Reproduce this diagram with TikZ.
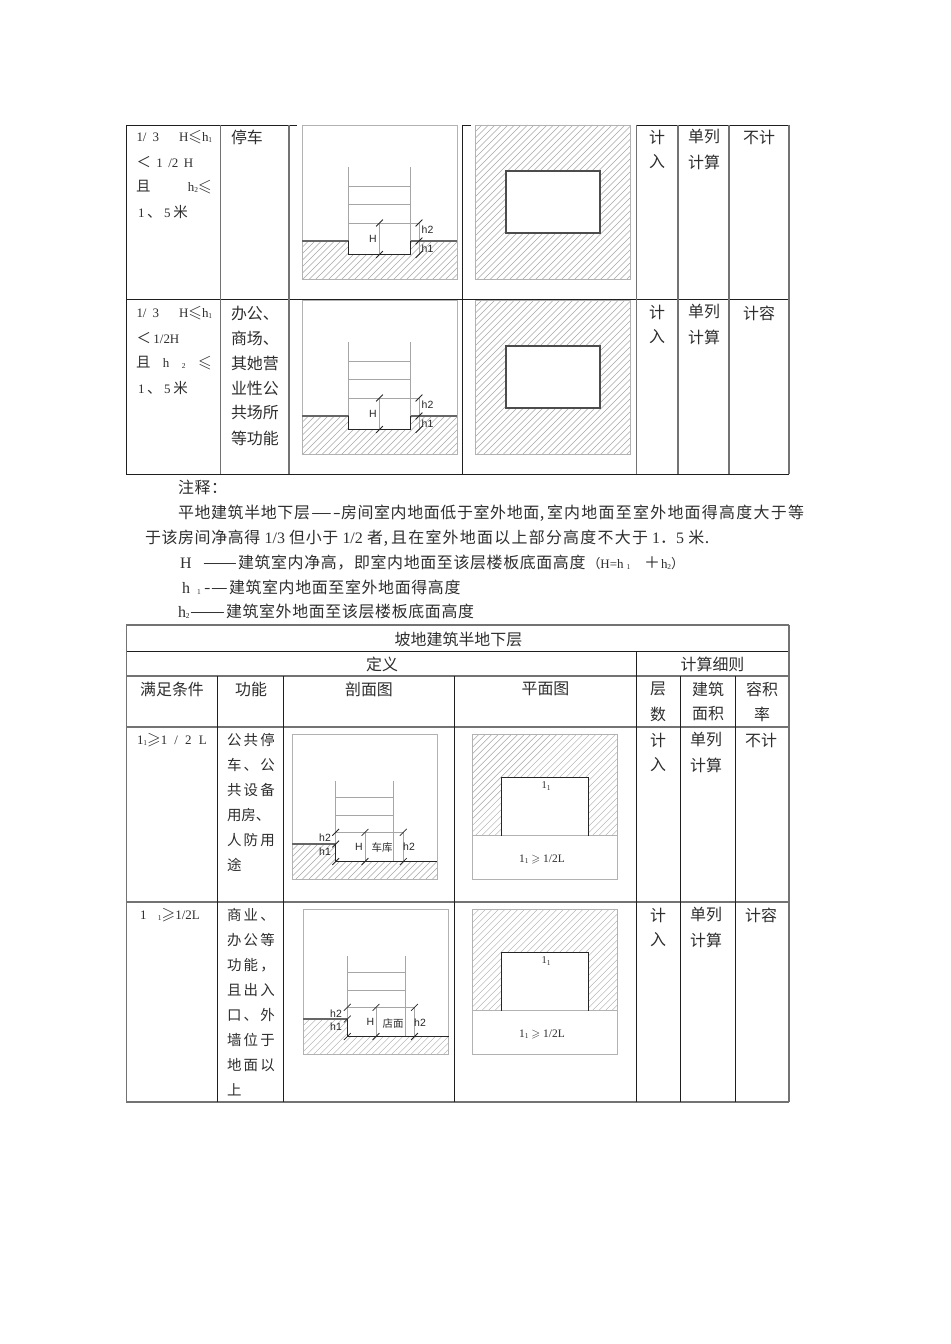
\documentclass[tikz,border=0pt]{standalone}
\usepackage{fontspec}
\usepackage{amssymb}
\usepackage{graphicx}
\setmainfont{Liberation Serif}
\newfontfamily\cjk{Noto Sans CJK SC}
\newfontfamily\cjkn{Noto Sans CJK SC}[LetterSpace=4]
\newfontfamily\cjkw{Noto Sans CJK SC}[LetterSpace=8]
\newfontfamily\lab{Liberation Sans}
\newcounter{tn}
\newcommand{\fa}{\fontsize{16}{18}\selectfont\cjk}
\newcommand{\fb}{\fontsize{14.5}{17}\selectfont\cjk}
\newcommand{\fc}{\fontsize{16}{18}\selectfont\cjkn}
\newcommand{\fw}{\fontsize{16}{18}\selectfont\cjkw}
\newcommand{\fd}{\fontsize{13}{14}\selectfont}
\newcommand{\fe}{\fontsize{16}{17}\selectfont\rmfamily}
\newcommand{\lo}[1]{{\fontsize{7.5}{8}\selectfont\raisebox{-1.5pt}{#1}}}
\newcommand{\lee}{\scalebox{1.35}{$\leqslant$}}
\newcommand{\gee}{\scalebox{1.35}{$\geqslant$}}
\newcommand{\spr}[2]{\makebox[#1pt][s]{#2}}
\newcommand{\dsh}[2]{\resizebox{#1pt}{\height}{\fc #2}}
\newcommand{\tw}[3]{\stepcounter{tn}\node[txt,anchor=west] (t\thetn) at (#1,#2) {#3};}
\newcommand{\tb}[3]{\stepcounter{tn}\node[txt,anchor=base west] (t\thetn) at (#1,#2+6.3) {#3};}
\newcommand{\tc}[3]{\stepcounter{tn}\node[txt] (t\thetn) at (#1,#2) {#3};}
\newcommand{\dm}[3]{\stepcounter{tn}\node[dimlab] (t\thetn) at (#1,#2) {#3};}
\newcommand{\tick}[2]{\draw[tickl] (#1-3.4,#2+3.4) -- (#1+3.4,#2-3.4);}
% hatch: clip path, then bbox x1 y1 x2 y2
\newcommand{\hatchin}[5]{\begin{scope}\clip #1;
  \pgfmathsetmacro{\hh}{(#5)-(#3)}
  \foreach \c in {0,1,...,60}{
    \pgfmathsetmacro{\xs}{(#2)-\hh+6.5*\c}
    \draw[hatchl] (\xs,#5) -- (\xs+\hh,#3);
  }\end{scope}}
\newcommand{\sectA}{
  \hatchin{(302,241) -- (348.5,241) -- (348.5,254.5) -- (410.5,254.5) -- (410.5,241) -- (457,241) -- (457,279.5) -- (302,279.5) -- cycle}{302}{241}{457}{279.5}
  \draw[frame] (302,125) rectangle (457,279.5);
  \draw[thin1] (348.5,167) -- (348.5,241) (410.5,167) -- (410.5,241);
  \draw[thin1] (348.5,186) -- (410.5,186) (348.5,204) -- (410.5,204) (348.5,223) -- (419,223);
  \draw[thin1] (379.5,223) -- (379.5,254.5) (419,223) -- (419,254.5);
  \draw[ground] (302,241) -- (348.5,241);
  \draw[ground] (410.5,241) -- (457,241);
  \draw[heavy] (348.5,241) -- (348.5,254.5) -- (410.5,254.5) -- (410.5,241);
  \tick{379.5}{223}\tick{379.5}{254.5}\tick{419}{223}\tick{419}{241}\tick{419}{254.5}
  \dm{373}{238.5}{H}\dm{427.5}{230}{h2}\dm{427.5}{249}{h1}
}
\newcommand{\planA}{
  \hatchin{(475.5,125) rectangle (630.5,279.5)}{475.5}{125}{630.5}{279.5}
  \draw[frame] (475.5,125) rectangle (630.5,279.5);
  \draw[plan,fill=white] (506,171) rectangle (600,233);
}
\newcommand{\planB}{
  \hatchin{(472.3,734.5) rectangle (617.7,835.5)}{472.3}{734.5}{617.7}{835.5}
  \draw[frame] (472.3,734.5) rectangle (617.7,879);
  \draw[frame] (472.3,835.5) -- (617.7,835.5);
  \fill[white] (501.7,777.5) rectangle (588.3,835);
  \draw[heavy] (501.7,835.5) -- (501.7,777.5) -- (588.3,777.5) -- (588.3,835.5);
  \tc{546}{786}{\fontsize{10.5}{11}\selectfont 1\lo{1}}
  \tc{542}{859}{\fontsize{11.5}{12}\selectfont 1\lo{1} $\geqslant$ 1/2L}
}
\newcommand{\sectB}[6]{
  % #1 frame x, #2 frame y, #3 wall1, #4 wall2, #5 dim H, #6 dim right
  \hatchin{(#1,#2+109.5) -- (#3,#2+109.5) -- (#3,#2+127) -- (#1+145.4,#2+127) -- (#1+145.4,#2+144.5) -- (#1,#2+144.5) -- cycle}{#1}{#2+109.5}{#1+145.4}{#2+144.5}
  \draw[frame] (#1,#2) rectangle (#1+145.4,#2+144.5);
  \draw[thin1] (#3,#2+46) -- (#3,#2+127) (#4,#2+46) -- (#4,#2+127);
  \draw[thin1] (#3,#2+63.2) -- (#4,#2+63.2) (#3,#2+80.5) -- (#4,#2+80.5) (#3,#2+97.8) -- (#6,#2+97.8);
  \draw[thin1] (#5,#2+97.8) -- (#5,#2+127) (#6,#2+97.8) -- (#6,#2+127);
  \draw[ground] (#1,#2+109.5) -- (#3,#2+109.5);
  \draw[heavy] (#3,#2+109.5) -- (#3,#2+127) -- (#1+145.4,#2+127);
  \tick{#3}{#2+97.8}\tick{#3}{#2+109.5}\tick{#3}{#2+127}
  \tick{#5}{#2+97.8}\tick{#5}{#2+127}\tick{#6}{#2+97.8}\tick{#6}{#2+127}
}
\tikzset{
  txt/.style={inner sep=0pt,outer sep=0pt,text=black!82},
  dimlab/.style={inner sep=0pt,font=\fontsize{10.5}{11}\selectfont\lab,text=black!85},
  frame/.style={draw=black!30,line width=.9pt},
  hatchl/.style={draw=black!35,line width=.45pt},
  thin1/.style={draw=black!35,line width=.7pt},
  ground/.style={draw=black!60,line width=1.2pt},
  heavy/.style={draw=black!85,line width=1.1pt},
  plan/.style={draw=black!70,line width=1.1pt},
  tickl/.style={draw=black!85,line width=.8pt},
  dk/.style={draw=black!88,line width=.9pt},
  gr/.style={draw=black!55,line width=1.1pt},
}
\begin{document}
\begin{tikzpicture}[x=1bp,y=-1bp]
\useasboundingbox[fill=white] (0,0) rectangle (950,1344);
% ---------- first table ----------
\sectA
\planA
\begin{scope}[shift={(0,175)}]
\sectA
\planA
\end{scope}
\draw[dk] (126,125) -- (297,125) (462,125) -- (471,125) (636,125) -- (789,125);
\draw[dk] (126,299) -- (789,299) (126,474) -- (789,474);
\draw[dk] (126.5,125) -- (126.5,474) (462.5,125) -- (462.5,474);
\draw[gr] (220.5,125) -- (220.5,474) (289,125) -- (289,474) (636.5,125) -- (636.5,474) (678,125) -- (678,474) (729,125) -- (729,474) (789,125) -- (789,474);
% col 1
\tw{136.5}{137}{\fd\spr{76}{1/\hspace{6pt}3\hfil H\lee h\lo{1}}}
\tw{136.5}{162}{\fd\spr{57}{{\fb ＜}\hfil 1\hfil /2\hfil H}}
\tw{136}{187}{\fd\spr{76}{{\fb 且}\hfil h\lo{2}\lee}}
\tw{138}{212}{\fd\spr{50}{1\hfil {\fb 、}\hfil 5\hfil {\fb 米}}}
\tw{136.5}{313}{\fd\spr{76}{1/\hspace{6pt}3\hfil H\lee h\lo{1}}}
\tw{136.5}{338}{\fd\spr{43}{{\fb ＜}\hfil 1/2H}}
\tw{136}{363}{\fd\spr{76}{{\fb 且}\hfil h\hfil\lo{2}\hfil\lee}}
\tw{138}{388}{\fd\spr{50}{1\hfil {\fb 、}\hfil 5\hfil {\fb 米}}}
% col 2
\tw{231}{137}{\fa 停车}
\tw{231}{313}{\fa 办公、}
\tw{231}{338}{\fa 商场、}
\tw{231}{363}{\fa 其她营}
\tw{231}{388}{\fa 业性公}
\tw{231}{413}{\fa 共场所}
\tw{231}{438}{\fa 等功能}
% right columns
\foreach \d in {0,175}{
  \tc{657}{137+\d}{\fa 计}
  \tc{657}{162+\d}{\fa 入}
  \tc{704}{137+\d}{\fa 单列}
  \tc{704}{162+\d}{\fa 计算}
}
\tc{759}{137}{\fa 不计}
\tc{759}{313}{\fa 计容}
% ---------- notes ----------
\tb{178}{487}{\fc 注释：}
\tb{178}{512}{\fc 平地建筑半地下层}
\tb{311}{512}{\dsh{30}{—-}}
\tb{341}{512}{\fc 房间室内地面低于室外地面,}
\tb{547}{512}{\fw 室内地面至室外地面得高度大于等}
\tb{145}{537}{\fc 于该房间净高得 {\fe 1/3} 但小于 {\fe 1/2} 者,\hspace{3pt}{\fw 且在室外地面以上部分高度不大于} {\fe 1}．{\fe 5} 米.}
\tb{180}{562}{\fe H}
\tb{203}{562}{\dsh{34}{——}}
\tb{238}{562}{\fc 建筑室内净高，即室内地面至该层楼板底面高度}
\tb{587.5}{562}{\fd{\cjk （}H=h\hspace{3pt}\lo{1}}
\tb{644}{562}{\fc ＋}
\tb{661}{562}{\fd h\lo{2}{\cjk ）}}
\tb{182}{587}{\fe h}
\tb{197}{587}{\lo{1}}
\tb{204}{587}{\dsh{24}{-—}}
\tb{229}{587}{\fc 建筑室内地面至室外地面得高度}
\tb{178}{611}{\fe h\lo{2}}
\tb{190}{611}{\dsh{35}{——}}
\tb{226}{611}{\fc 建筑室外地面至该层楼板底面高度}
% ---------- second table ----------
\sectB{292}{734.5}{335.7}{393.7}{365}{403.3}
\dm{325}{838}{h2}\dm{325}{852}{h1}\dm{359}{847}{H}\dm{409}{847}{h2}
\tc{382}{848}{\fontsize{10.5}{11}\selectfont\cjk 车库}
\sectB{303.3}{909.5}{347.3}{405.3}{376}{414.5}
\dm{336}{1014}{h2}\dm{336}{1027}{h1}\dm{370.5}{1022}{H}\dm{420}{1022.5}{h2}
\tc{393}{1024}{\fontsize{10.5}{11}\selectfont\cjk 店面}
\planB
\begin{scope}[shift={(0,175)}]
\planB
\end{scope}
\draw[gr] (126,625) -- (789,625) (126,676) -- (789,676) (126,727) -- (789,727) (126,902) -- (789,902) (126,1102) -- (789,1102);
\draw[dk] (126,651) -- (789,651);
\draw[gr] (126.5,625) -- (126.5,1102) (789,625) -- (789,1102);
\draw[dk] (217.5,676) -- (217.5,1102) (283.5,676) -- (283.5,1102) (454.5,676) -- (454.5,1102) (636,651) -- (636,1102) (680.5,676) -- (680.5,1102) (735.5,676) -- (735.5,1102);
\tc{458.5}{639}{\fa 坡地建筑半地下层}
\tc{382}{664}{\fa 定义}
\tc{712.5}{664}{\fa 计算细则}
\tc{172}{689}{\fa 满足条件}
\tc{251}{689}{\fa 功能}
\tc{369}{689}{\fa 剖面图}
\tc{545.5}{689}{\fa 平面图}
\tc{658}{689}{\fa 层}
\tc{658}{714}{\fa 数}
\tc{708}{689}{\fa 建筑}
\tc{708}{714}{\fa 面积}
\tc{762}{689}{\fa 容积}
\tc{762}{714}{\fa 率}
\tw{137}{740}{\fd\spr{70}{1\lo{1}\gee 1\hfil/\hfil 2\hfil L}}
\tw{140}{915}{\fd\spr{60}{1\hfil\lo{1}\gee 1/2L}}
\tw{227}{740}{\fb\spr{48}{公\hfil 共\hfil 停}}
\tw{227}{765}{\fb\spr{48}{车\hfil 、\hfil 公}}
\tw{227}{790}{\fb\spr{48}{共\hfil 设\hfil 备}}
\tw{227}{815}{\fb 用房、}
\tw{227}{840}{\fb\spr{48}{人\hfil 防\hfil 用}}
\tw{227}{865}{\fb 途}
\tw{227}{915}{\fb\spr{48}{商\hfil 业\hfil 、}}
\tw{227}{940}{\fb\spr{48}{办\hfil 公\hfil 等}}
\tw{227}{965}{\fb\spr{48}{功\hfil 能\hfil ，}}
\tw{227}{990}{\fb\spr{48}{且\hfil 出\hfil 入}}
\tw{227}{1015}{\fb\spr{48}{口\hfil 、\hfil 外}}
\tw{227}{1040}{\fb\spr{48}{墙\hfil 位\hfil 于}}
\tw{227}{1065}{\fb\spr{48}{地\hfil 面\hfil 以}}
\tw{227}{1090}{\fb 上}
\foreach \d in {0,175}{
  \tc{658}{740+\d}{\fa 计}
  \tc{658}{765+\d}{\fa 入}
  \tc{706}{740+\d}{\fa 单列}
  \tc{706}{765+\d}{\fa 计算}
}
\tc{761}{740}{\fa 不计}
\tc{761}{915}{\fa 计容}
\end{tikzpicture}
\end{document}
